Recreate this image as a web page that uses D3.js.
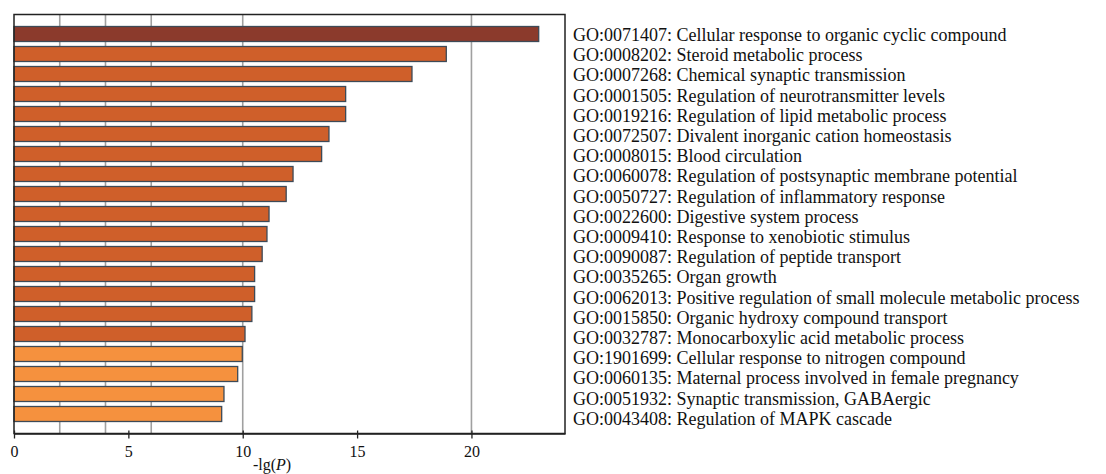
<!DOCTYPE html>
<html><head><meta charset="utf-8">
<script src="https://cdn.jsdelivr.net/npm/d3@7"></script>
<style>body{margin:0;background:#fff;} svg{display:block;} text{font-family:"Liberation Serif";}</style>
</head><body>
<svg id="chart" width="1106" height="474"></svg>
<script>
const terms = [
  "GO:0071407: Cellular response to organic cyclic compound",
  "GO:0008202: Steroid metabolic process",
  "GO:0007268: Chemical synaptic transmission",
  "GO:0001505: Regulation of neurotransmitter levels",
  "GO:0019216: Regulation of lipid metabolic process",
  "GO:0072507: Divalent inorganic cation homeostasis",
  "GO:0008015: Blood circulation",
  "GO:0060078: Regulation of postsynaptic membrane potential",
  "GO:0050727: Regulation of inflammatory response",
  "GO:0022600: Digestive system process",
  "GO:0009410: Response to xenobiotic stimulus",
  "GO:0090087: Regulation of peptide transport",
  "GO:0035265: Organ growth",
  "GO:0062013: Positive regulation of small molecule metabolic process",
  "GO:0015850: Organic hydroxy compound transport",
  "GO:0032787: Monocarboxylic acid metabolic process",
  "GO:1901699: Cellular response to nitrogen compound",
  "GO:0060135: Maternal process involved in female pregnancy",
  "GO:0051932: Synaptic transmission, GABAergic",
  "GO:0043408: Regulation of MAPK cascade"
];
const values = [22.94, 18.9, 17.4, 14.5, 14.5, 13.77, 13.45, 12.2, 11.9, 11.15, 11.06, 10.85, 10.52, 10.52, 10.4, 10.1, 9.98, 9.78, 9.18, 9.08];
const levels = [0,1,1,1,1,1,1,1,1,1,1,1,1,1,1,1,2,2,2,2];
const levelColors = ["#8b3a2c", "#cf5f2a", "#f5913e"];
const xTicks = [0, 5, 10, 15, 20];
const gridValues = [2, 4, 6, 10, 20];
const xTitle = "-lg(";

const svg = d3.select("#chart");
const pLeft = 14, pRight = 565, pTop = 14.5, pBottom = 433.5;
const x = d3.scaleLinear().domain([0, 24.09]).range([pLeft, pRight]);
const y = d3.scaleBand().domain(terms).range([24, 424]).paddingInner(0.25).paddingOuter(0.125);
const yLab = d3.scaleBand().domain(terms).range([24.5, 428.5]);

// grid
svg.append("g").selectAll("line").data(gridValues).join("line")
  .attr("x1", d => x(d)).attr("x2", d => x(d))
  .attr("y1", pTop).attr("y2", pBottom)
  .attr("stroke", "#a0a0a0").attr("stroke-width", 1.6);

// bars
svg.append("g").selectAll("rect").data(terms).join("rect")
  .attr("x", x(0)).attr("y", d => y(d))
  .attr("width", (d, i) => x(values[i]) - x(0))
  .attr("height", y.bandwidth())
  .attr("fill", (d, i) => levelColors[levels[i]])
  .attr("stroke", "#3d4a57").attr("stroke-width", 1.3);

// frame
svg.append("rect").attr("x", pLeft).attr("y", pTop)
  .attr("width", pRight - pLeft).attr("height", pBottom - pTop)
  .attr("fill", "none").attr("stroke", "#222").attr("stroke-width", 1.5);

// x axis
const xAxis = d3.axisBottom(x).tickValues(xTicks).tickSize(5).tickSizeOuter(0).tickFormat(d3.format("d"));
const gx = svg.append("g").attr("transform", `translate(0,${pBottom})`).call(xAxis);
gx.attr("font-family", null);
gx.select(".domain").attr("stroke", "#222").attr("stroke-width", 1.5);
gx.selectAll(".tick line").attr("stroke", "#222").attr("stroke-width", 1.3).attr("y1", -3);
gx.selectAll(".tick text").attr("font-family", "Liberation Serif")
  .attr("font-size", 16).attr("fill", "#111").attr("dy", "0.95em");

const t = svg.append("text").attr("x", 272).attr("y", 470).attr("text-anchor", "middle")
  .attr("font-family", "Liberation Serif").attr("font-size", 16).attr("fill", "#111");
t.append("tspan").text(xTitle);
t.append("tspan").attr("font-style", "italic").text("P");
t.append("tspan").text(")");

// labels
svg.append("g").selectAll("text").data(terms).join("text")
  .attr("x", 573).attr("y", d => yLab(d) + yLab.bandwidth() / 2)
  .attr("dy", "0.35em")
  .attr("font-family", "Liberation Serif")
  .attr("font-size", 18).attr("fill", "#111")
  .text(d => d);
</script>
</body></html>
